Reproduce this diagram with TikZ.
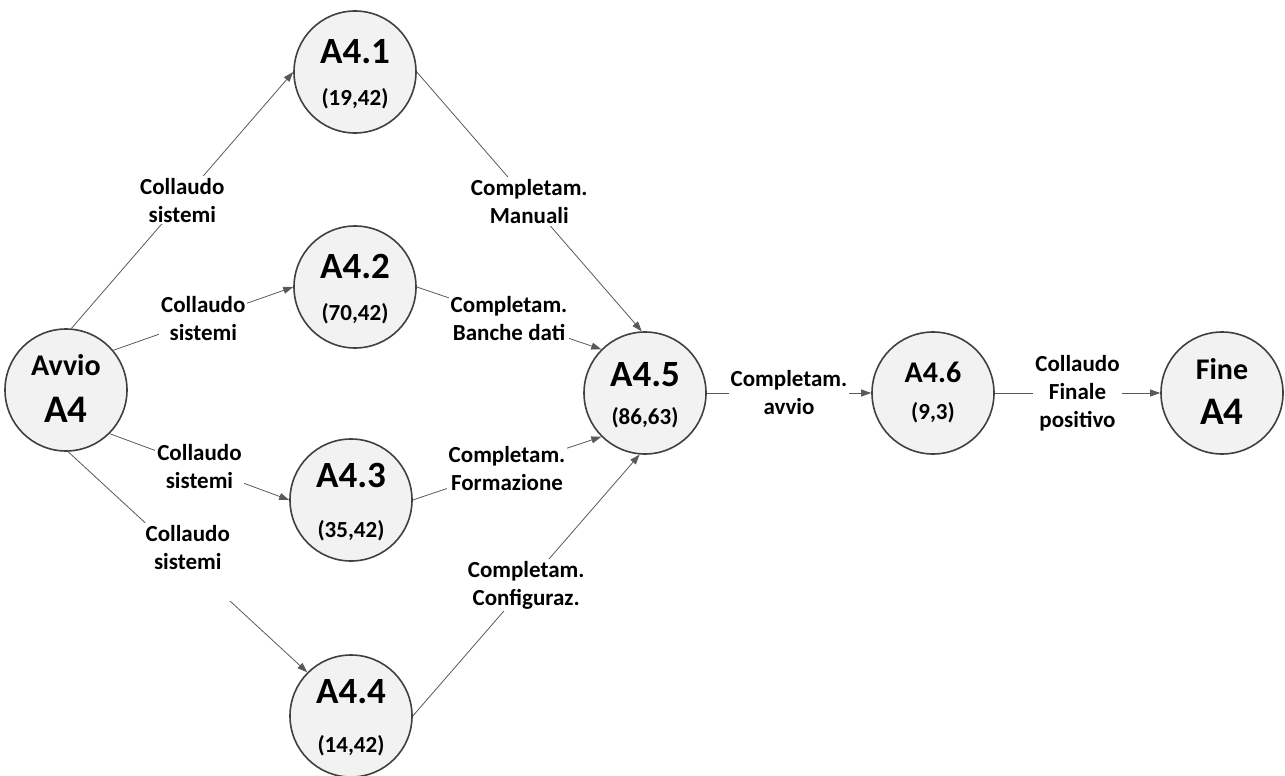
\documentclass[tikz,border=0pt]{standalone}
\usepackage{fontspec}
\setmainfont{Carlito}
\usetikzlibrary{arrows.meta}

\definecolor{edgegray}{HTML}{595959}
\definecolor{ringgray}{HTML}{404040}
\definecolor{fillgray}{HTML}{F2F2F2}

\tikzset{
  activity/.style={circle, draw=ringgray, line width=1.6pt, fill=fillgray,
    minimum size=122pt, inner sep=0pt, align=center, text depth=-6pt,
    font=\bfseries\fontsize{23}{#1}\selectfont},
  activity/.default=42pt,
  endpoint/.style={activity=#1, text depth=4pt},
  flow/.style={draw=edgegray, line width=0.8pt, -{Triangle[length=10pt,width=7pt]}},
  lbl/.style={fill=white, inner sep=2pt, align=center, pos=0.5,
    font=\bfseries\fontsize{23}{28}\selectfont},
}
\newcommand{\tit}[1]{{\fontsize{37}{37}\selectfont #1}}
\newcommand{\titsmall}[1]{{\fontsize{30}{30}\selectfont #1}}
\newcommand{\titbig}[1]{{\fontsize{39}{39}\selectfont #1}}

\begin{document}
\begin{tikzpicture}[x=1pt, y=-1pt]
  \useasboundingbox (0,0) rectangle (1285,776);

  % activities
  \node[endpoint=47pt] (Avvio) at (66,390) {\titsmall{Avvio}\\\titbig{A4}};
  \node[activity] (A41) at (355,72) {\tit{A4.1}\\(19,42)};
  \node[activity] (A42) at (355,287) {\tit{A4.2}\\(70,42)};
  \node[activity=50pt] (A43) at (351,500) {\tit{A4.3}\\(35,42)};
  \node[activity=49pt] (A44) at (351,716) {\tit{A4.4}\\(14,42)};
  \node[activity=38pt] (A45) at (645,393) {\tit{A4.5}\\(86,63)};
  \node[endpoint=37pt] (A46) at (933,393) {\titsmall{A4.6}\\(9,3)};
  \node[endpoint=45pt] (Fine) at (1222,393) {\titsmall{Fine}\\\titbig{A4}};

  % from the start
  \draw[flow] (Avvio.85) to node[lbl] {Collaudo\\sistemi} (A41.west);
  \draw[flow] (Avvio.40) to node[lbl] {Collaudo\\sistemi} (A42.west);
  \draw[flow] (Avvio.-45) to node[lbl] {Collaudo\\sistemi} (A43.west);
  \draw[flow] (Avvio.-88) to node[lbl, text depth=30pt] {Collaudo\\sistemi} (A44.135);

  % into A4.5
  \draw[flow] (A41.east) to node[lbl] {Completam.\\Manuali} (A45.93);
  \draw[flow] (A42.east) to node[lbl] {Completam.\\Banche dati} (A45.135);
  \draw[flow] (A43.east) to node[lbl] {Completam.\\Formazione} (A45.225);
  \draw[flow] (A44.east) to node[lbl] {Completam.\\Configuraz.} (A45.265);

  % to the end
  \draw[flow] (A45.east) to node[lbl] {Completam.\\avvio} (A46.west);
  \draw[flow] (A46.east) to node[lbl] {Collaudo\\Finale\\positivo} (Fine.west);
\end{tikzpicture}
\end{document}
